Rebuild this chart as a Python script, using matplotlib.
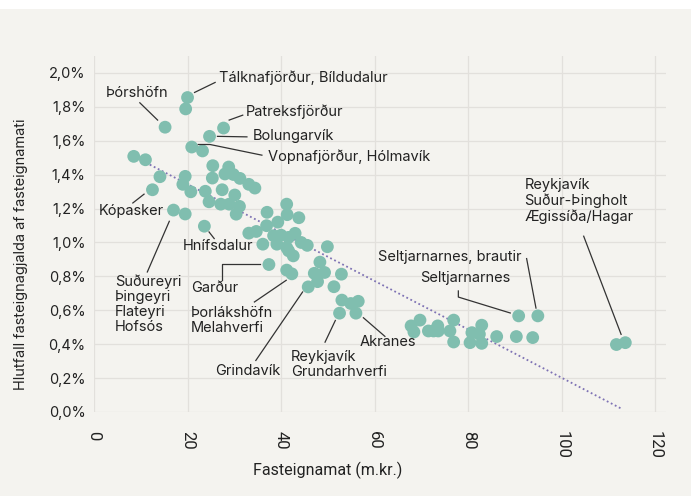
import matplotlib.pyplot as plt
from matplotlib.patches import Rectangle
from matplotlib.ticker import FuncFormatter

# fasteignamat (m.kr.) og hlutfall fasteignagjalda (%)
fasteignamat = [20.0, 19.6, 15.2, 27.7, 24.7, 20.9, 23.2, 8.5, 11.0, 25.4,
                28.8, 28.0, 29.8, 31.2, 25.3, 19.5, 14.1, 19.0, 33.1, 34.4,
                12.5, 20.7, 23.8, 27.4, 30.1, 24.6, 27.1, 28.9, 31.1, 30.4,
                41.2, 37.0, 41.3, 43.8, 39.3, 17.0, 19.5, 23.6, 33.1, 34.7,
                36.9, 43.0, 36.1, 38.4, 40.0, 41.6, 39.1, 41.2, 44.3, 45.6,
                41.6, 42.6, 49.9, 37.4, 48.3, 41.2, 42.3, 47.1, 49.3, 52.9,
                47.8, 51.3, 45.8, 53.0, 54.9, 56.5, 52.5, 56.0,
                67.8, 68.4, 69.7, 71.5, 72.6, 73.5, 73.6, 76.1, 76.9, 76.9,
                80.4, 80.8, 82.4, 82.9, 82.9, 86.1, 90.3, 90.8, 93.8, 94.9,
                111.7, 113.6]
hlutfall = [1.855, 1.788, 1.68, 1.675, 1.626, 1.563, 1.540, 1.508, 1.488, 1.453,
            1.445, 1.404, 1.401, 1.378, 1.380, 1.390, 1.388, 1.343, 1.343, 1.321,
            1.311, 1.299, 1.302, 1.311, 1.280, 1.240, 1.226, 1.226, 1.213, 1.167,
            1.226, 1.178, 1.164, 1.146, 1.120, 1.191, 1.168, 1.096, 1.055, 1.065,
            1.099, 1.054, 0.990, 1.040, 1.043, 1.030, 0.990, 0.970, 1.000, 0.983,
            0.951, 0.921, 0.975, 0.870, 0.884, 0.837, 0.815, 0.818, 0.823, 0.813,
            0.769, 0.739, 0.738, 0.660, 0.640, 0.653, 0.583, 0.583,
            0.508, 0.472, 0.542, 0.478, 0.478, 0.508, 0.478, 0.478, 0.542, 0.413,
            0.409, 0.468, 0.459, 0.512, 0.405, 0.445, 0.445, 0.567, 0.439, 0.567,
            0.398, 0.409]

# leitnilína
trend_x = [8.5, 112.6]
trend_y = [1.508, 0.022]

# merkingar: texti, staðsetning texta, leiðarlína
labels = [
    ("Tálknafjörður, Bíldudalur", (26.7, 1.970), [(21.5, 1.885), (25.9, 1.944)]),
    ("Þórshöfn", (2.6, 1.880), [(9.8, 1.824), (13.6, 1.722)]),
    ("Patreksfjörður", (32.5, 1.769), [(28.9, 1.722), (31.8, 1.751)]),
    ("Bolungarvík", (33.9, 1.629), [(26.4, 1.626), (32.7, 1.623)]),
    ("Vopnafjörður, Hólmavík", (37.2, 1.505), [(22.3, 1.578), (24.8, 1.578), (35.9, 1.515)]),
    ("Kópasker", (1.1, 1.186), [(8.3, 1.233), (10.7, 1.285)]),
    ("Hnífsdalur", (19.0, 0.978), [(24.6, 1.062), (25.7, 1.023)]),
    ("Suðureyri\nÞingeyri\nFlateyri\nHofsós", (4.5, 0.635), [(11.4, 0.826), (16.1, 1.125)]),
    ("Garður", (20.7, 0.731), [(27.4, 0.777), (27.4, 0.875), (35.4, 0.875)]),
    ("Þorlákshöfn\nMelahverfi", (20.7, 0.538), [(34.3, 0.649), (41.1, 0.777)]),
    ("Grindavík", (25.9, 0.242), [(34.6, 0.304), (44.6, 0.708)]),
    ("Reykjavík\nGrundarhverfi", (42.1, 0.281), [(49.4, 0.412), (51.6, 0.540)]),
    ("Akranes", (56.7, 0.412), [(57.6, 0.556), (62.2, 0.446)]),
    ("Seltjarnarnes, brautir", (60.8, 0.914), [(92.5, 0.905), (94.5, 0.613)]),
    ("Seltjarnarnes", (69.7, 0.793), [(77.9, 0.714), (77.9, 0.678), (89.0, 0.584)]),
    ("Reykjavík\nSuður-Þingholt\nÆgissíða/Hagar", (92.0, 1.244), [(104.7, 1.037), (112.7, 0.458)]),
]

bg = "#f4f3ef"
dot = "#80beaf"
font = ["Inter", "DejaVu Sans"]
narrow = ["Roboto", "DejaVu Sans"]

fig = plt.figure(figsize=(6.91, 4.96), dpi=100, facecolor="white")
fig.patches.append(Rectangle((0, 0), 1, 1 - 9 / 496, transform=fig.transFigure,
                             facecolor=bg, edgecolor="none", zorder=-10))
ax = fig.add_axes([94 / 691, 1 - 412 / 496, 572 / 691, 356 / 496])
ax.set_facecolor(bg)

ax.plot(trend_x, trend_y, linestyle=(0, (1, 1.5)), color="#7e72b4", lw=1.3, zorder=2)
ax.scatter(fasteignamat, hlutfall, s=85, color=dot, edgecolors="none", zorder=3)

for txt, (tx, ty), line in labels:
    ax.text(tx, ty, txt, ha="left", va="center", fontsize=10.5, family=font,
            color="#222222", linespacing=1.1, zorder=4)
    ax.plot([p[0] for p in line], [p[1] for p in line], color="#333333", lw=0.9, zorder=4)

ax.set_xlim(0, 122.3)
ax.set_ylim(0, 2.1)
ax.set_xticks([0, 20, 40, 60, 80, 100, 120])
ax.set_yticks([0, 0.2, 0.4, 0.6, 0.8, 1.0, 1.2, 1.4, 1.6, 1.8, 2.0])
ax.yaxis.set_major_formatter(FuncFormatter(lambda v, p: f"{v:.1f}%".replace(".", ",")))
ax.grid(True, color="#e2e0dc", lw=0.9)
ax.set_axisbelow(True)
for s in ax.spines.values():
    s.set_visible(False)
ax.tick_params(length=0)
ax.tick_params(axis="y", pad=6, labelsize=10.5, labelcolor="#222222")
ax.tick_params(axis="x", pad=14, labelsize=12, labelcolor="#222222", labelrotation=-90)
for t in ax.get_yticklabels():
    t.set_family(font)
for t in ax.get_xticklabels():
    t.set_family(narrow)
    t.set_va("top")

ax.set_xlabel("Fasteignamat (m.kr.)", fontsize=11.5, family=narrow, color="#222222")
ax.xaxis.set_label_coords(0.409, -0.14)
ax.set_ylabel("Hlutfall fasteignagjalda af fasteignamati", fontsize=10.5, family=font, color="#222222")
ax.yaxis.set_label_coords(-0.115, 0.444)

fig.savefig("out.png", dpi=100, facecolor=fig.get_facecolor())
